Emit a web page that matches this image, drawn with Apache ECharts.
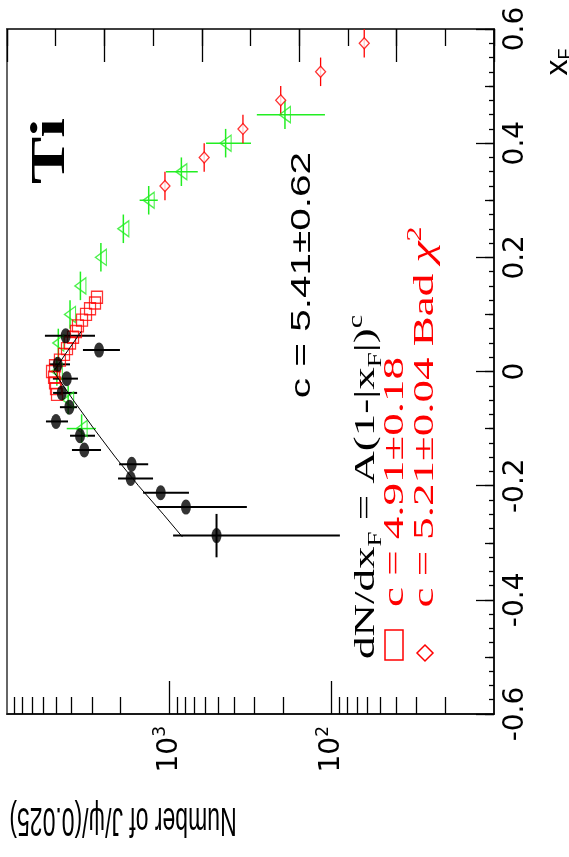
<!DOCTYPE html>
<html>
<head>
<meta charset="utf-8">
<script src="https://cdn.jsdelivr.net/npm/echarts@6/dist/echarts.min.js"></script>
<style>
html, body { margin: 0; padding: 0; background: #fff; }
#main { width: 569px; height: 857px; }
</style>
</head>
<body>
<div id="main"></div>
<script>
// rotated plot: counts (log, reversed) along the bottom, xF up the right side

// black filled points
var blackXF = [0.0625, 0.0375, 0.0125, -0.0125, -0.0375, -0.0625, -0.0875, -0.1125, -0.1375, -0.1625, -0.1875, -0.2125, -0.2375, -0.2875];
var blackN = [4350, 2710, 4875, 4285, 4600, 4130, 4990, 3550, 3340, 1705, 1730, 1130, 790, 512];
var blackLo = [2870, 2015, 4090, 3655, 3700, 3705, 4210, 2870, 2635, 1350, 1260, 757, 333, 89];
var blackHi = [5840, 3405, 5510, 5215, 5200, 4720, 5755, 4090, 3980, 2040, 2070, 1450, 1190, 948];
var blackHalfBin = [0, 0, 0, 0, 0, 0, 0, 0, 0, 0, 0, 0, 0, 0.038];

// red open squares (c = 4.91)
var squareXF = [0.13, 0.12, 0.11, 0.10, 0.09, 0.08, 0.07, 0.06, 0.05, 0.04, 0.03, 0.02, 0.01, 0.0, -0.01, -0.02, -0.03, -0.04];
var squareN = [2790, 2870, 3080, 3260, 3450, 3655, 3760, 3920, 4090, 4270, 4455, 4720, 5060, 5280, 5130, 5060, 4990, 4920];

// red open diamonds (c = 5.21)
var diamondXF = [0.625, 0.575, 0.525, 0.475, 0.425, 0.375, 0.325];
var diamondN = [33, 63, 117, 206, 352, 610, 1064];
var diamondHalfBin = 0.025;

// green open triangles
var greenXF = [0.45, 0.40, 0.35, 0.30, 0.25, 0.20, 0.15, 0.10, 0.05, 0.0, -0.05, -0.10];
var greenN = [194, 450, 843, 1340, 1920, 2640, 3530, 4090, 4830, 4930, 4200, 3470];
var greenLo = [110, 314, 668, 1178, null, null, null, null, null, null, null, 2830];
var greenHi = [289, 594, 1050, 1524, null, null, null, null, null, null, null, 4285];
var greenHalfBin = 0.025;

// fit curve A(1-|xF|)^c as drawn
var fitXF = [-0.29, -0.25, -0.2, -0.15, -0.1, -0.05, 0.0, 0.03, 0.05, 0.07];
var fitN = [830, 1090, 1550, 2150, 2920, 3910, 5165, 4380, 3910, 3490];

// tick values
var countMajor = [100, 1000];
var countMinor = [20, 30, 40, 50, 60, 70, 80, 90, 200, 300, 400, 500, 600, 700, 800, 900, 2000, 3000, 4000, 5000, 6000, 7000, 8000, 9000];

var RED = '#ff0000';
var GREEN = '#22ee22';
var SANS = 'Liberation Sans, Arial, sans-serif';
var SERIF = 'Liberation Serif, Times New Roman, serif';

function errRows(xs, ns, lo, hi, half) {
  return xs.map(function (f, i) {
    var h = Array.isArray(half) ? half[i] : half;
    return [ns[i], f, lo ? lo[i] : null, hi ? hi[i] : null, h ? f - h : null, h ? f + h : null];
  });
}

function errSeries(rows, color, width) {
  return {
    type: 'custom',
    xAxisIndex: 0,
    yAxisIndex: 0,
    clip: true,
    silent: true,
    data: rows,
    encode: { x: 0, y: 1 },
    renderItem: function (params, api) {
      var n = api.value(0), f = api.value(1);
      var nLo = api.value(2), nHi = api.value(3), fLo = api.value(4), fHi = api.value(5);
      var kids = [];
      var st = { stroke: color, lineWidth: width };
      if (nLo && nHi && !isNaN(nLo) && !isNaN(nHi)) {
        var a = api.coord([nLo, f]), b = api.coord([nHi, f]);
        kids.push({ type: 'line', shape: { x1: a[0], y1: a[1], x2: b[0], y2: b[1] }, style: st });
      }
      if (fLo !== null && fHi !== null && !isNaN(fLo) && !isNaN(fHi)) {
        var c = api.coord([n, fLo]), d = api.coord([n, fHi]);
        kids.push({ type: 'line', shape: { x1: c[0], y1: c[1], x2: d[0], y2: d[1] }, style: st });
      }
      return { type: 'group', children: kids };
    }
  };
}

function pts(xs, ns) {
  return xs.map(function (f, i) { return [ns[i], f]; });
}

var myChart = echarts.init(document.getElementById('main'));

var tickLine = { color: '#000', width: 1.3 };

var option = {
  animation: false,
  backgroundColor: '#fff',
  grid: {
    left: 7, right: 75, top: 29, bottom: 143,
    show: true, borderColor: '#666', borderWidth: 2, backgroundColor: 'transparent'
  },
  xAxis: [
    {
      type: 'log', logBase: 10, min: 10, max: 10000, inverse: true, position: 'bottom',
      axisLine: { show: true, onZero: false, lineStyle: { color: '#000', width: 1.5 } },
      axisTick: { show: true, inside: true, length: 33, customValues: countMajor, lineStyle: tickLine },
      axisLabel: {
        customValues: countMajor, rotate: 90, margin: 12,
        formatter: function (v) { return '{b|10}{s|' + Math.round(Math.log10(v)) + '}'; },
        rich: {
          b: { fontFamily: 'DejaVu Sans', fontSize: 28, color: '#000', lineHeight: 34 },
          s: { fontFamily: 'DejaVu Sans', fontSize: 17, color: '#000', verticalAlign: 'top', lineHeight: 17 }
        }
      },
      splitLine: { show: false }
    },
    {
      type: 'log', logBase: 10, min: 10, max: 10000, inverse: true, position: 'bottom',
      axisLine: { show: false, onZero: false },
      axisTick: { show: true, inside: true, length: 17, customValues: countMinor, lineStyle: tickLine },
      axisLabel: { show: false },
      splitLine: { show: false }
    },
    {
      type: 'value', min: 0, max: 10, interval: 2, position: 'top',
      axisLine: { show: true, onZero: false, lineStyle: { color: '#333', width: 1.5 } },
      axisTick: { show: true, inside: true, length: 33, lineStyle: tickLine },
      axisLabel: { show: false },
      splitLine: { show: false }
    },
    {
      type: 'value', min: 0, max: 10, interval: 1, position: 'top',
      axisLine: { show: false, onZero: false },
      axisTick: { show: true, inside: true, length: 17, lineStyle: tickLine },
      axisLabel: { show: false },
      splitLine: { show: false }
    }
  ],
  yAxis: [
    {
      type: 'value', min: -0.6, max: 0.6, interval: 0.2, position: 'right',
      axisLine: { show: true, onZero: false, lineStyle: { color: '#000', width: 1.5 } },
      axisTick: { show: true, inside: true, length: 18, lineStyle: tickLine },
      minorTick: { show: true, splitNumber: 8, length: 5, lineStyle: tickLine },
      axisLabel: {
        rotate: 90, margin: 8, color: '#000', fontFamily: 'DejaVu Sans', fontSize: 28,
        showMinLabel: true, showMaxLabel: true,
        formatter: function (v) { return Math.abs(v) < 1e-9 ? '0' : v.toFixed(1); }
      },
      splitLine: { show: false }
    },
    {
      type: 'value', min: -0.6, max: 0.6, interval: 0.1, position: 'right',
      axisLine: { show: false, onZero: false },
      axisTick: { show: true, inside: true, length: 9, lineStyle: tickLine },
      axisLabel: { show: false },
      splitLine: { show: false }
    }
  ],
  series: [
    errSeries(errRows(greenXF, greenN, greenLo, greenHi, greenHalfBin), GREEN, 1.5),
    {
      type: 'scatter', xAxisIndex: 0, yAxisIndex: 0, silent: true,
      data: pts(greenXF, greenN),
      symbol: 'triangle', symbolRotate: 90, symbolSize: [16, 11],
      itemStyle: { color: 'rgba(0,0,0,0)', borderColor: GREEN, borderWidth: 1.3 }
    },
    {
      type: 'scatter', xAxisIndex: 0, yAxisIndex: 0, silent: true,
      data: pts(squareXF, squareN),
      symbol: 'rect', symbolSize: [11, 12],
      itemStyle: { color: 'rgba(0,0,0,0)', borderColor: RED, borderWidth: 1.3 }
    },
    errSeries(errRows(diamondXF, diamondN, null, null, diamondHalfBin), RED, 1.3),
    {
      type: 'scatter', xAxisIndex: 0, yAxisIndex: 0, silent: true, clip: true,
      data: pts(diamondXF, diamondN),
      symbol: 'diamond', symbolSize: [10, 11],
      itemStyle: { color: '#fff', borderColor: RED, borderWidth: 1.3 }
    },
    errSeries(errRows(blackXF, blackN, blackLo, blackHi, blackHalfBin), '#000', 2),
    {
      type: 'scatter', xAxisIndex: 0, yAxisIndex: 0, silent: true,
      data: pts(blackXF, blackN),
      symbol: 'circle', symbolSize: [10, 15],
      itemStyle: { color: '#000' }
    },
    {
      type: 'line', xAxisIndex: 0, yAxisIndex: 0, silent: true,
      data: pts(fitXF, fitN),
      showSymbol: false, symbol: 'none',
      lineStyle: { color: '#000', width: 1 }
    }
  ],
  graphic: [
    {
      type: 'text', x: 51, y: 151, rotation: Math.PI / 2, scaleX: 1.45, z: 100,
      style: { text: 'Ti', fontFamily: SERIF, fontWeight: 'bold', fontSize: 49, fill: '#000', align: 'center', verticalAlign: 'middle' }
    },
    {
      type: 'text', x: 303, y: 275, rotation: Math.PI / 2, scaleX: 1.5, z: 100,
      style: { text: 'c = 5.41±0.62', fontFamily: SANS, fontSize: 27, fill: '#000', align: 'center', verticalAlign: 'middle' }
    },
    {
      type: 'text', x: 366, y: 487, rotation: Math.PI / 2, scaleX: 1.5, z: 100,
      style: {
        text: '{n|dN/dx}{sub|F}{n| = A(1-|x}{sub|F}{n||)}{sup|c}',
        align: 'center', verticalAlign: 'middle',
        rich: {
          n: { fontFamily: SERIF, fontSize: 30, fill: '#000', lineHeight: 38 },
          sub: { fontFamily: SERIF, fontSize: 18, fill: '#000', lineHeight: 18, verticalAlign: 'bottom' },
          sup: { fontFamily: SERIF, fontSize: 20, fill: '#000', lineHeight: 20, verticalAlign: 'top' }
        }
      }
    },
    {
      type: 'text', x: 395, y: 482, rotation: Math.PI / 2, scaleX: 1.5, z: 100,
      style: { text: 'c = 4.91±0.18', fontFamily: SERIF, fontSize: 30, fill: RED, align: 'center', verticalAlign: 'middle' }
    },
    {
      type: 'text', x: 425, y: 417, rotation: Math.PI / 2, scaleX: 1.5, z: 100,
      style: {
        text: '{n|c = 5.21±0.04 Bad }{g|χ}{sup|2}',
        align: 'center', verticalAlign: 'middle',
        rich: {
          n: { fontFamily: SERIF, fontSize: 30, fill: RED, lineHeight: 38 },
          g: { fontFamily: SERIF, fontStyle: 'italic', fontSize: 32, fill: RED, lineHeight: 38 },
          sup: { fontFamily: SERIF, fontSize: 20, fill: RED, lineHeight: 20, verticalAlign: 'top' }
        }
      }
    },
    {
      type: 'rect', z: 100,
      shape: { x: 385, y: 630, width: 18, height: 30 },
      style: { fill: 'none', stroke: RED, lineWidth: 1.5 }
    },
    {
      type: 'polygon', z: 100,
      shape: { points: [[425, 645], [433, 653], [425, 661], [417, 653]] },
      style: { fill: 'none', stroke: RED, lineWidth: 1.5 }
    },
    {
      type: 'text', x: 558, y: 62, rotation: Math.PI / 2, z: 100,
      style: {
        text: '{a|x}{s|F}', align: 'center', verticalAlign: 'middle',
        rich: {
          a: { fontFamily: SANS, fontSize: 32, fill: '#000', lineHeight: 34 },
          s: { fontFamily: SANS, fontSize: 18, fill: '#000', lineHeight: 18, verticalAlign: 'bottom' }
        }
      }
    },
    {
      type: 'text', x: 123, y: 819, rotation: Math.PI, scaleY: 1.75, z: 100,
      style: { text: 'Number of J/ψ/(0.025)', fontFamily: SANS, fontSize: 23, fill: '#000', align: 'center', verticalAlign: 'middle' }
    }
  ]
};

myChart.setOption(option);
</script>
</body>
</html>
